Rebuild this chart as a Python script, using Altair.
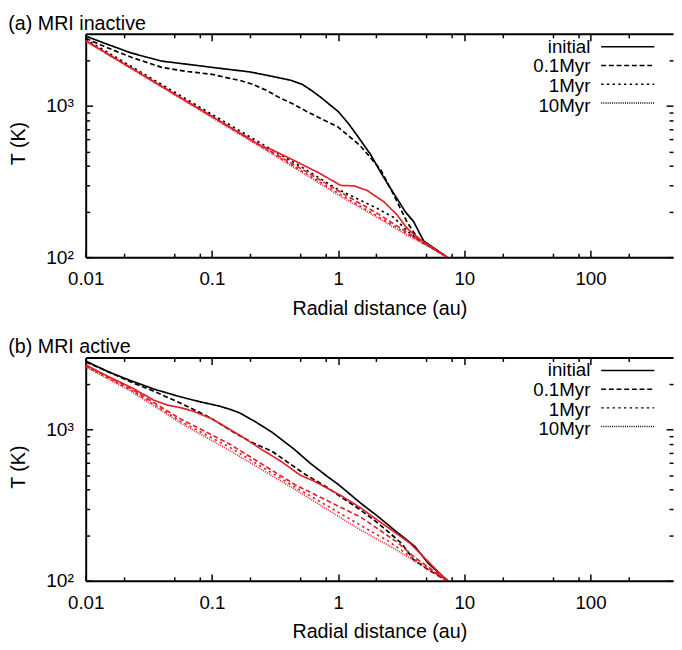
import json
import altair as alt
import pandas as pd

# ---------------- data ----------------
TIMES = ["initial", "0.1Myr", "1Myr", "10Myr"]

# (a) MRI inactive
A_BLACK_INIT_R = [0.01, 0.015, 0.023, 0.04, 0.07, 0.1, 0.2, 0.3, 0.42, 0.52, 0.62, 0.74, 0.87, 1.0, 1.2, 1.43, 1.8, 2.17, 2.5, 2.92, 3.4, 3.96, 4.4, 4.76, 6.0, 7.3]
A_BLACK_INIT_T = [2900, 2550, 2240, 1980, 1870, 1800, 1680, 1570, 1480, 1390, 1260, 1130, 1010, 920, 770, 630, 480, 365, 300, 245, 200, 172, 145, 128, 112, 100]
A_BLACK_01_R = [0.01, 0.015, 0.023, 0.04, 0.064, 0.1, 0.13, 0.17, 0.21, 0.27, 0.34, 0.44, 0.55, 0.7, 1.0, 1.5, 2.17, 2.76, 3.5, 4.4, 6.0, 7.3]
A_BLACK_01_T = [2800, 2420, 2100, 1800, 1690, 1620, 1540, 1470, 1390, 1270, 1140, 1030, 930, 840, 725, 545, 380, 258, 172, 128, 112, 100]
A_BLACK_1_R = [0.01, 0.03, 0.1, 0.3, 0.5, 1.0, 1.5, 2.0, 2.76, 3.5, 4.4, 5.5, 7.3]
A_BLACK_1_T = [2760, 1600, 880, 512, 400, 280, 238, 212, 183, 150, 128, 115, 100]
A_RED_INIT_R = [0.01, 0.1, 0.25, 0.3, 0.46, 0.7, 1.0, 1.06, 1.34, 1.7, 2.31, 2.92, 3.5, 3.96, 4.76, 7.3]
A_RED_INIT_T = [2700, 854, 540, 513, 431, 362, 305, 298, 296, 276, 232, 191, 156, 142, 126, 100]
A_RED_01_R = [0.01, 0.1, 0.3, 0.5, 1.0, 1.5, 2.0, 2.76, 3.5, 4.76, 7.3]
A_RED_01_T = [2700, 854, 495, 388, 275, 226, 197, 166, 146, 125, 100]
A_RED_1_R = [0.01, 0.3, 1.0, 2.0, 3.5, 4.76, 7.3]
A_RED_1_T = [2700, 488, 265, 189, 143, 124, 100]
A_RED_10_R = [0.01, 0.3, 1.0, 2.0, 3.5, 4.76, 7.3]
A_RED_10_T = [2690, 482, 258, 185, 140, 123, 100]

# (b) MRI active
B_BLACK_INIT_R = [0.01, 0.015, 0.023, 0.035, 0.056, 0.08, 0.115, 0.14, 0.166, 0.22, 0.3, 0.45, 0.6, 0.834, 1.0, 1.517, 2.05, 2.76, 3.4, 4.07, 5.2, 7.4]
B_BLACK_INIT_T = [2840, 2420, 2100, 1850, 1650, 1530, 1430, 1360, 1290, 1130, 960, 740, 600, 485, 435, 325, 268, 218, 190, 168, 130, 100]
B_BLACK_01_R = [0.01, 0.015, 0.023, 0.035, 0.056, 0.08, 0.1, 0.13, 0.166, 0.22, 0.3, 0.42, 0.55, 0.8, 1.1, 1.5, 2.05, 2.6, 3.2, 3.96, 5.2, 7.3]
B_BLACK_01_T = [2800, 2420, 2060, 1790, 1500, 1300, 1180, 1030, 910, 805, 718, 590, 505, 420, 350, 295, 242, 205, 176, 138, 118, 100]
B_RED_INIT_R = [0.01, 0.015, 0.023, 0.035, 0.045, 0.056, 0.07, 0.1, 0.14, 0.18, 0.25, 0.35, 0.5, 0.65, 1.06, 1.5, 2.05, 2.8, 3.72, 5.0, 7.3]
B_RED_INIT_T = [2680, 2250, 1900, 1560, 1450, 1400, 1330, 1180, 1000, 880, 735, 620, 500, 455, 365, 305, 252, 210, 177, 138, 100]
B_RED_01_R = [0.01, 0.023, 0.056, 0.139, 0.459, 1.517, 2.0, 2.93, 3.96, 7.3]
B_RED_01_T = [2650, 1860, 1180, 800, 431, 263, 225, 180, 145, 100]
B_RED_1_R = [0.01, 0.023, 0.056, 0.139, 0.46, 1.517, 2.5, 3.51, 7.3]
B_RED_1_T = [2620, 1820, 1140, 762, 415, 232, 183, 150, 100]
B_RED_10_R = [0.01, 0.023, 0.056, 0.139, 0.46, 1.517, 2.5, 3.51, 7.3]
B_RED_10_T = [2600, 1790, 1110, 726, 400, 216, 172, 145, 100]

X_MAJOR = [0.01, 0.1, 1, 10, 100]
X_MINOR = [0.02, 0.05, 0.08, 0.2, 0.5, 0.8, 2, 5, 8, 20, 50, 80, 200]
Y_MAJOR = [100, 1000]
Y_MINOR = [200, 300, 400, 500, 600, 700, 800, 900, 2000]

# ---------------- table ----------------
rows = []


def add(panel, model, time, rs, ts):
    for r, t in zip(rs, ts):
        rows.append(dict(panel=panel, model=model, time=time, idx=TIMES.index(time), r=r, T=t))


add("a", "black", "initial", A_BLACK_INIT_R, A_BLACK_INIT_T)
add("a", "black", "0.1Myr", A_BLACK_01_R, A_BLACK_01_T)
add("a", "black", "1Myr", A_BLACK_1_R, A_BLACK_1_T)
add("a", "red", "initial", A_RED_INIT_R, A_RED_INIT_T)
add("a", "red", "0.1Myr", A_RED_01_R, A_RED_01_T)
add("a", "red", "1Myr", A_RED_1_R, A_RED_1_T)
add("a", "red", "10Myr", A_RED_10_R, A_RED_10_T)
add("b", "black", "initial", B_BLACK_INIT_R, B_BLACK_INIT_T)
add("b", "black", "0.1Myr", B_BLACK_01_R, B_BLACK_01_T)
add("b", "red", "initial", B_RED_INIT_R, B_RED_INIT_T)
add("b", "red", "0.1Myr", B_RED_01_R, B_RED_01_T)
add("b", "red", "1Myr", B_RED_1_R, B_RED_1_T)
add("b", "red", "10Myr", B_RED_10_R, B_RED_10_T)
df = pd.DataFrame(rows)

FONT = "Liberation Sans"
COLORS = {"black": "#000000", "red": "#e3212b"}
DASHES = [[1, 0], [5, 2.8], [2.4, 3.4], [1, 1.2]]
W, H = 597, 227
XDOM = [0.01, 450]
YDOM = [100, 3000]
LEG_Y = 4.2
LEG_CLIP = 18
LEG_ROWPAD = 1.0


def ax(orient, values, size, labels=False, title=None, domain=False, ticks=True, **kw):
    opts = dict(orient=orient, values=values, grid=False, domain=domain, ticks=ticks,
                labels=labels, tickSize=size, offset=-size, tickWidth=1.5,
                tickColor="black", domainColor="black", domainWidth=2,
                minExtent=0, maxExtent=400, labelFlush=False)
    opts["title"] = title
    opts.update(kw)
    return alt.Axis(**opts)


def panel(pdf, title):
    xs = alt.Scale(type="log", domain=XDOM, nice=False)
    ys = alt.Scale(type="log", domain=YDOM, nice=False)
    # legend 1: line samples only
    sym_legend = alt.Legend(
        orient="none", legendX=523, legendY=LEG_Y, title=None, symbolType="stroke",
        symbolSize=2916, symbolStrokeWidth=1.5, symbolStrokeColor="black",
        labelExpr="''", labelFontSize=1, labelOffset=0,
        clipHeight=LEG_CLIP, rowPadding=LEG_ROWPAD, padding=0)
    # legend 2: right-aligned labels only (symbols hidden)
    txt_legend = alt.Legend(
        orient="none", legendX=494, legendY=LEG_Y, title=None, symbolType="circle",
        symbolSize=1, symbolOpacity=0, symbolStrokeWidth=0,
        labelExpr=json.dumps(TIMES) + "[datum.value]",
        labelFont=FONT, labelFontSize=19, labelColor="black", labelAlign="right",
        labelOffset=0, clipHeight=LEG_CLIP, rowPadding=LEG_ROWPAD, padding=0, labelLimit=0)
    dash = alt.StrokeDash("time:N", scale=alt.Scale(domain=TIMES, range=DASHES), legend=sym_legend)
    opac = alt.Opacity("idx:O", scale=alt.Scale(domain=[0, 1, 2, 3], range=[1, 1]), legend=txt_legend)

    x_main = ax("bottom", X_MAJOR, 7, labels=True, title="Radial distance (au)",
                labelExpr="format(datum.value, '~g')", labelFontSize=19, labelPadding=13,
                titleFontSize=20, titlePadding=10)
    y_main = ax("left", Y_MAJOR, 7, labels=True, title="T (K)",
                labelExpr="datum.value == 100 ? '10²' : '10³'", labelFontSize=19.5,
                labelPadding=12.5, titleFontSize=20, titlePadding=18, titleY=111)

    layers = []
    sub_b = pdf[pdf.model == "black"]
    layers.append(alt.Chart(sub_b).mark_line(clip=True, strokeWidth=1.7, color=COLORS["black"]).encode(
        x=alt.X("r:Q", scale=xs, axis=x_main),
        y=alt.Y("T:Q", scale=ys, axis=y_main),
        strokeDash=dash, opacity=opac, order=alt.Order("r:Q")))
    sub_r = pdf[pdf.model == "red"]
    layers.append(alt.Chart(sub_r).mark_line(clip=True, strokeWidth=1.7, color=COLORS["red"]).encode(
        x=alt.X("r:Q", scale=xs, axis=None),
        y=alt.Y("T:Q", scale=ys, axis=None),
        strokeDash=dash, opacity=opac, order=alt.Order("r:Q")))

    def carrier(xaxis, yaxis):
        return alt.Chart(pdf).mark_point(opacity=0, size=1).encode(
            x=alt.X("r:Q", scale=xs, axis=xaxis),
            y=alt.Y("T:Q", scale=ys, axis=yaxis))

    layers.append(carrier(ax("top", X_MAJOR, 7), ax("right", Y_MAJOR, 7)))
    layers.append(carrier(ax("bottom", X_MINOR, 4), ax("left", Y_MINOR, 4)))
    layers.append(carrier(ax("top", X_MINOR, 4), ax("right", Y_MINOR, 4)))
    layers.append(carrier(ax("bottom", X_MAJOR, 0, domain=True, ticks=False),
                          ax("left", Y_MAJOR, 0, domain=True, ticks=False)))
    layers.append(carrier(ax("top", X_MAJOR, 0, domain=True, ticks=False), None))

    return alt.layer(*layers).resolve_axis(x="independent", y="independent").properties(
        width=W, height=H,
        title=alt.TitleParams(title, anchor="start", fontSize=20, font=FONT,
                              fontWeight="normal", color="black", offset=-16.5,
                              baseline="alphabetic"))


pa = panel(df[df.panel == "a"], "(a) MRI inactive")
pb = panel(df[df.panel == "b"], "(b) MRI active")

chart = alt.vconcat(pa, pb, spacing=19).resolve_scale(
    strokeDash="independent", opacity="independent").resolve_legend(
    strokeDash="independent", opacity="independent").properties(
    padding={"left": 0, "top": 0, "right": 0, "bottom": 0}
).configure_view(stroke=None).configure_axis(
    labelFont=FONT, titleFont=FONT, labelColor="black", titleColor="black",
    titleFontWeight="normal")

chart.save("out.html", embed_options={"renderer": "svg", "actions": False})
